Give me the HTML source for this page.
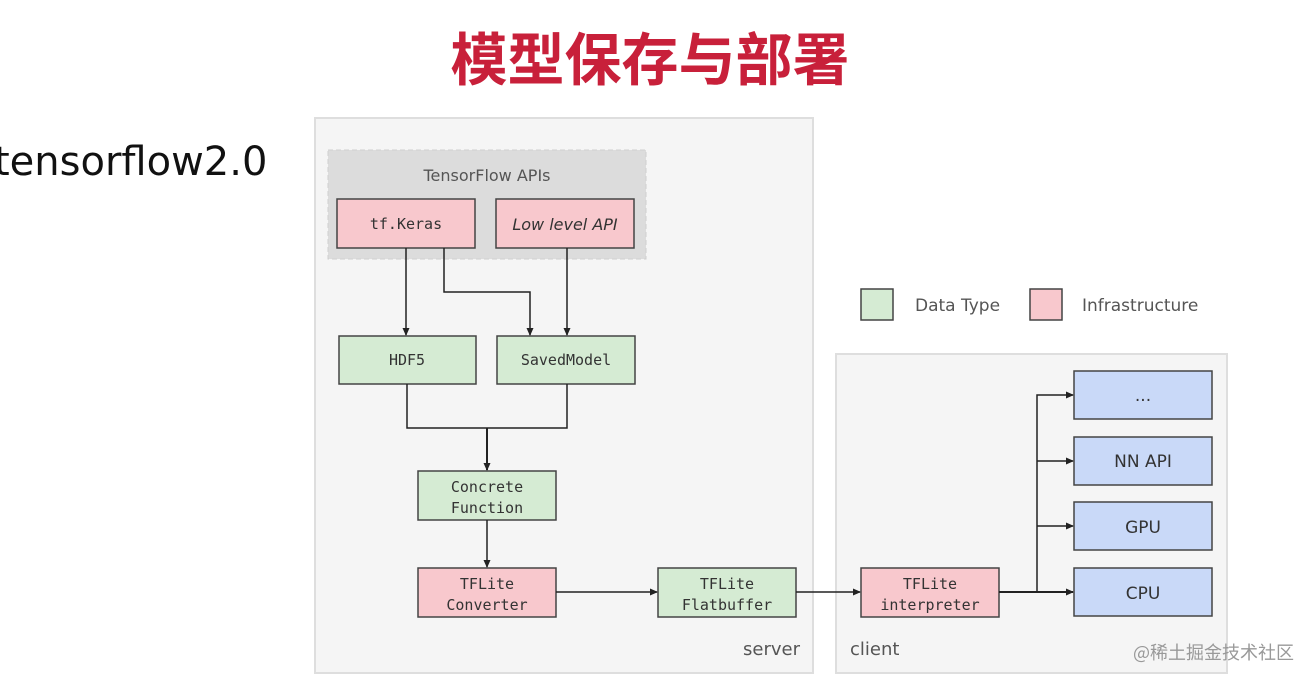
<!DOCTYPE html>
<html><head><meta charset="utf-8"><style>
html,body{margin:0;padding:0;background:#fff;width:1316px;height:683px;overflow:hidden}
svg{display:block}
.s{font-family:"DejaVu Sans","Liberation Sans",sans-serif}
.m{font-family:"DejaVu Sans Mono","Liberation Mono",monospace}
</style></head><body>
<svg width="1316" height="683" viewBox="0 0 1316 683" xmlns="http://www.w3.org/2000/svg">
<defs><marker id="a" markerWidth="8" markerHeight="8" refX="7" refY="4" orient="auto" markerUnits="userSpaceOnUse"><path d="M0,0.5 L8,4 L0,7.5 z" fill="#222"/></marker></defs>
<text x="650" y="80" text-anchor="middle" font-family="'Noto Sans CJK SC',sans-serif" font-weight="bold" font-size="57" fill="#c8203a">模型保存与部署</text>
<text x="-6" y="175" class="s" font-size="40" fill="#111">tensorflow2.0</text>
<rect x="315" y="118" width="498" height="555" fill="#f5f5f5" stroke="#dedede" stroke-width="2"/>
<rect x="836" y="354" width="391" height="319" fill="#f5f5f5" stroke="#dedede" stroke-width="2"/>
<rect x="328" y="150" width="318" height="109" fill="#dcdcdc" stroke="#cfcfcf" stroke-dasharray="5,3"/>
<text x="487" y="181" text-anchor="middle" class="s" font-size="16" fill="#555">TensorFlow APIs</text>
<g stroke="#444" stroke-width="1.5">
<rect x="337" y="199" width="138" height="49" fill="#f8c8cd"/>
<rect x="496" y="199" width="138" height="49" fill="#f8c8cd"/>
<rect x="339" y="336" width="137" height="48" fill="#d5ebd3"/>
<rect x="497" y="336" width="138" height="48" fill="#d5ebd3"/>
<rect x="418" y="471" width="138" height="49" fill="#d5ebd3"/>
<rect x="418" y="568" width="138" height="49" fill="#f8c8cd"/>
<rect x="658" y="568" width="138" height="49" fill="#d5ebd3"/>
<rect x="861" y="568" width="138" height="49" fill="#f8c8cd"/>
<rect x="1074" y="371" width="138" height="48" fill="#c9d9f8"/>
<rect x="1074" y="437" width="138" height="48" fill="#c9d9f8"/>
<rect x="1074" y="502" width="138" height="48" fill="#c9d9f8"/>
<rect x="1074" y="568" width="138" height="48" fill="#c9d9f8"/>
<rect x="861" y="289" width="32" height="31" fill="#d5ebd3"/>
<rect x="1030" y="289" width="32" height="31" fill="#f8c8cd"/>
</g>
<g stroke="#222" stroke-width="1.5" fill="none">
<path d="M406,248 V335" marker-end="url(#a)"/>
<path d="M444,248 V292 H530 V335" marker-end="url(#a)"/>
<path d="M567,248 V335" marker-end="url(#a)"/>
<path d="M407,384 V428 H567 V384"/>
<path d="M487,428 V470" marker-end="url(#a)" stroke-width="2"/>
<path d="M487,520 V567" marker-end="url(#a)"/>
<path d="M556,592 H657" marker-end="url(#a)"/>
<path d="M796,592 H860" marker-end="url(#a)"/>
<path d="M999,592 H1073" marker-end="url(#a)" stroke-width="2"/>
<path d="M1037,592 V395 H1073" marker-end="url(#a)"/>
<path d="M1037,461 H1073" marker-end="url(#a)"/>
<path d="M1037,526 H1073" marker-end="url(#a)"/>
</g>
<g class="m" font-size="15" fill="#333" text-anchor="middle">
<text x="406" y="229">tf.Keras</text>
<text x="407" y="365">HDF5</text>
<text x="566" y="365">SavedModel</text>
<text x="487" y="492">Concrete</text><text x="487" y="513">Function</text>
<text x="487" y="589">TFLite</text><text x="487" y="610">Converter</text>
<text x="727" y="589">TFLite</text><text x="727" y="610">Flatbuffer</text>
<text x="930" y="589">TFLite</text><text x="930" y="610">interpreter</text>
</g>
<text x="565" y="230" text-anchor="middle" class="s" font-style="italic" font-size="16" fill="#333">Low level API</text>
<g class="s" font-size="17" fill="#333" text-anchor="middle">
<text x="1143" y="401">...</text>
<text x="1143" y="467">NN API</text>
<text x="1143" y="533">GPU</text>
<text x="1143" y="599">CPU</text>
</g>
<text x="915" y="311" class="s" font-size="17" fill="#555">Data Type</text>
<text x="1082" y="311" class="s" font-size="17" fill="#555">Infrastructure</text>
<text x="800" y="655" text-anchor="end" class="s" font-size="18" fill="#555">server</text>
<text x="850" y="655" class="s" font-size="18" fill="#555">client</text>
<text x="1133" y="659" font-family="'Noto Sans CJK SC',sans-serif" font-size="18" fill="#999">@稀土掘金技术社区</text>
</svg>
</body></html>
